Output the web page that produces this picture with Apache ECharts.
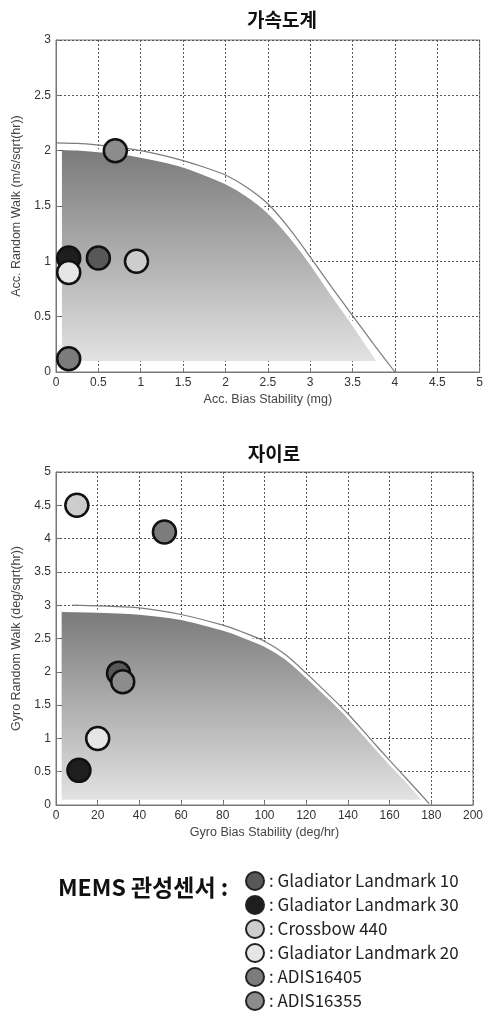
<!DOCTYPE html>
<html>
<head>
<meta charset="utf-8">
<script src="https://cdn.jsdelivr.net/npm/echarts@6/dist/echarts.min.js"></script>
<style>
html,body{margin:0;padding:0;background:#fff;}
#main{width:486px;height:1012px;}
</style>
</head>
<body>
<div id="main"></div>
<script>
// ---- data ----
const sensors = ['Gladiator Landmark 10','Gladiator Landmark 30','Crossbow 440','Gladiator Landmark 20','ADIS16405','ADIS16355'];
const sensorColors = ['#585858','#1e1e1e','#cdcdcd','#e6e6e6','#7c7c7c','#8c8c8c'];
const accBias = [0.5, 0.15, 0.95, 0.15, 0.15, 0.7];
const accRW   = [1.03, 1.03, 1.0, 0.9, 0.12, 2.0];
const gyroBias = [30, 11, 10, 20, 52, 32];
const gyroRW   = [1.98, 0.52, 4.5, 1.0, 4.1, 1.85];

// boundary curves
const accOutlineX = [0, 0.25, 0.5, 0.75, 1, 1.25, 1.5, 1.75, 2, 2.25, 2.5, 2.75, 3, 3.25, 3.5, 3.75, 4];
const accOutlineY = [2.07, 2.065, 2.05, 2.03, 2.0, 1.96, 1.91, 1.85, 1.78, 1.67, 1.52, 1.3, 1.04, 0.77, 0.51, 0.25, 0];
const accFillX = [0.07, 0.25, 0.5, 0.75, 1, 1.25, 1.5, 1.75, 2, 2.25, 2.5, 2.75, 3, 3.25, 3.5, 3.65, 3.8];
const accFillY = [2.02, 2.015, 2.0, 1.98, 1.95, 1.91, 1.86, 1.79, 1.71, 1.6, 1.45, 1.24, 0.99, 0.71, 0.44, 0.27, 0.1];
const accFillBase = 0.1;

const gyroOutlineX = [8, 20, 40, 60, 80, 90, 100, 110, 120, 130, 140, 150, 160, 170, 179];
const gyroOutlineY = [3.0, 2.99, 2.96, 2.86, 2.7, 2.59, 2.46, 2.26, 1.98, 1.68, 1.37, 1.02, 0.67, 0.33, 0.02];
const gyroFillX = [2.7, 20, 40, 60, 80, 90, 100, 110, 120, 130, 140, 150, 160, 170, 176];
const gyroFillY = [2.92, 2.91, 2.88, 2.8, 2.64, 2.53, 2.4, 2.21, 1.94, 1.64, 1.33, 0.98, 0.63, 0.3, 0.08];
const gyroFillBase = 0.08;

const accXTicks = {min:0, max:5, interval:0.5};
const accYTicks = {min:0, max:3, interval:0.5};
const gyroXTicks = {min:0, max:200, interval:20};
const gyroYTicks = {min:0, max:5, interval:0.5};

const zip = (a,b) => a.map((v,i)=>[v,b[i]]);

const chart = echarts.init(document.getElementById('main'), null, {renderer:'canvas'});
const FONT = 'Liberation Sans, Arial, sans-serif';
const KFONT = '"Noto Sans CJK KR", "Noto Sans", sans-serif';

function axisCommon(idx, t, name, gap){
  return {
    gridIndex: idx, type:'value', min:t.min, max:t.max, interval:t.interval,
    name: name, nameLocation:'middle', nameGap: gap,
    nameTextStyle:{color:'#444', fontSize:12.5, fontFamily:FONT},
    axisLine:{show:true, lineStyle:{color:'#777', width:1}},
    axisTick:{show:true, inside:true, length:4, lineStyle:{color:'#777'}},
    axisLabel:{color:'#333', fontSize:12, fontFamily:FONT, margin:5,
      formatter: v => String(+v.toFixed(2))},
    splitLine:{show:true, lineStyle:{color:'#555', type:[2,2], width:1}}
  };
}

function grad(){
  return new echarts.graphic.LinearGradient(0,0,0,1,[
    {offset:0, color:'#7a7a7a'},
    {offset:1, color:'#e2e2e2'}
  ]);
}

const lineCommon = {type:'line', symbol:'none', silent:true, smooth:0.25};
const series = [
  Object.assign({}, lineCommon, {xAxisIndex:0, yAxisIndex:0, data: zip(accFillX, accFillY),
   lineStyle:{color:'#fff', width:3}, areaStyle:{origin: accFillBase, color: grad(), opacity:1}, z:2}),
  Object.assign({}, lineCommon, {xAxisIndex:0, yAxisIndex:0, data: zip(accOutlineX, accOutlineY),
   lineStyle:{color:'#7c7c7c', width:1.2}, z:3}),
  Object.assign({}, lineCommon, {xAxisIndex:1, yAxisIndex:1, data: zip(gyroFillX, gyroFillY),
   lineStyle:{color:'#fff', width:3}, areaStyle:{origin: gyroFillBase, color: grad(), opacity:1}, z:2}),
  Object.assign({}, lineCommon, {xAxisIndex:1, yAxisIndex:1, data: zip(gyroOutlineX, gyroOutlineY),
   lineStyle:{color:'#7c7c7c', width:1.2}, z:3})
];

sensors.forEach((name,i)=>{
  const style = {color: sensorColors[i], borderColor:'#111', borderWidth:2.5, opacity:1};
  series.push({type:'scatter', name, xAxisIndex:0, yAxisIndex:0, symbol:'circle', symbolSize:23,
    data:[[accBias[i], accRW[i]]], itemStyle:style, z:5+i});
  series.push({type:'scatter', name, xAxisIndex:1, yAxisIndex:1, symbol:'circle', symbolSize:23,
    data:[[gyroBias[i], gyroRW[i]]], itemStyle:style, z:5+i});
});

chart.setOption({
  animation:false,
  backgroundColor:'#fff',
  title:[
    {text:'가속도계', left:277, top:5, textAlign:'center',
     textStyle:{fontSize:19, fontWeight:'bold', color:'#111', fontFamily:KFONT}},
    {text:'자이로', left:269, top:439, textAlign:'center',
     textStyle:{fontSize:19, fontWeight:'bold', color:'#111', fontFamily:KFONT}}
  ],
  grid:[
    {left:56, width:425, top:40, height:332, show:true, borderColor:'#777', borderWidth:1, backgroundColor:'#fff'},
    {left:56, width:425, top:472, height:333, show:true, borderColor:'#777', borderWidth:1, backgroundColor:'#fff'}
  ],
  xAxis:[
    axisCommon(0, accXTicks, 'Acc. Bias Stability (mg)', 21),
    axisCommon(1, gyroXTicks, 'Gyro Bias Stability (deg/hr)', 21)
  ],
  yAxis:[
    axisCommon(0, accYTicks, 'Acc. Random Walk (m/s/sqrt(hr))', 30),
    axisCommon(1, gyroYTicks, 'Gyro Random Walk (deg/sqrt(hr))', 30)
  ],
  legend:{
    data: sensors, orient:'vertical', left:245, top:871, bottom:0, padding:0,
    itemWidth:18, itemHeight:18, itemGap:4, icon:'circle',
    itemStyle:{borderColor:'#222', borderWidth:2},
    formatter: n => ': ' + n,
    textStyle:{fontSize:17, color:'#222', fontFamily:KFONT, padding:0}
  },
  graphic:[
    {type:'text', left:58, top:876,
     style:{text:'MEMS 관성센서 :', font:'bold 23px "Noto Sans CJK KR", sans-serif', fill:'#111'}}
  ],
  series
});
</script>
</body>
</html>
